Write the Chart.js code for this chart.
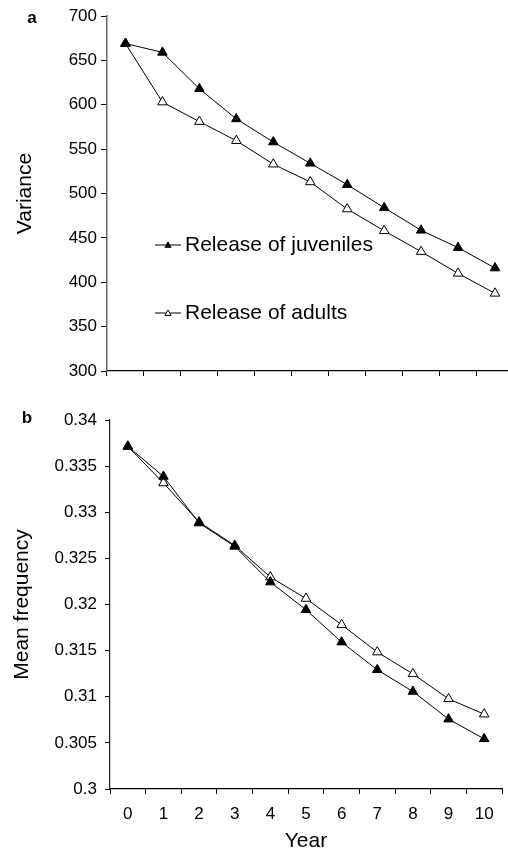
<!DOCTYPE html>
<html>
<head>
<meta charset="utf-8">
<script src="https://cdn.jsdelivr.net/npm/chart.js@4/dist/chart.umd.min.js"></script>
<style>
  html, body { margin: 0; padding: 0; background: #fff; overflow: hidden; }
  #wrap { position: relative; width: 508px; height: 853px; overflow: hidden; }
  canvas { position: absolute; left: 0; }
  #chartA { top: 0; }
  #chartB { top: 395px; }
</style>
</head>
<body>
<div id="wrap">
  <canvas id="chartA" width="520" height="395"></canvas>
  <canvas id="chartB" width="520" height="458"></canvas>
</div>
<script>
// years on the x axis
const years = ['0', '1', '2', '3', '4', '5', '6', '7', '8', '9', '10'];

// panel a: variance
const varianceJuveniles = [669, 659, 618, 584, 558, 534, 510, 484, 458.5, 439, 416];
const varianceAdults = [669, 603, 581, 559.5, 533, 513, 482.5, 458, 434.5, 410, 387.5];

// panel b: mean frequency
const freqJuveniles = [0.33714, 0.33388, 0.32883, 0.3263, 0.32243, 0.31943, 0.31592, 0.31292, 0.31057, 0.30757, 0.30544];
const freqAdults = [0.33714, 0.33317, 0.32894, 0.3264, 0.32297, 0.32065, 0.3178, 0.31484, 0.31248, 0.30977, 0.30811];

const seriesNames = ['Release of juveniles', 'Release of adults'];

const FONT = "'Liberation Sans', Arial, Helvetica, sans-serif";

function makeDataset(label, data, filled) {
  return {
    label: label,
    data: data,
    borderColor: '#000',
    borderWidth: 1,
    backgroundColor: filled ? '#000' : '#fff',
    pointStyle: 'triangle',
    pointRadius: 5.5,
    pointBorderColor: '#000',
    pointBackgroundColor: filled ? '#000' : '#fff',
    pointBorderWidth: 1,
    tension: 0,
    fill: false
  };
}

// panel letter + in-plot legend
const panelDecor = {
  id: 'panelDecor',
  afterDraw(chart, args, opts) {
    const ctx = chart.ctx;
    ctx.save();
    ctx.fillStyle = '#000';
    ctx.font = 'bold 17px ' + FONT;
    ctx.textAlign = 'center';
    ctx.textBaseline = 'middle';
    ctx.fillText(opts.letter, opts.letterX, opts.letterY);

    if (opts.legend) {
      const rows = opts.legend;
      chart.data.datasets.forEach((ds, i) => {
        const r = rows[i];
        ctx.strokeStyle = ds.borderColor;
        ctx.lineWidth = 1;
        ctx.beginPath();
        ctx.moveTo(r.x1, r.y);
        ctx.lineTo(r.x2, r.y);
        ctx.stroke();
        ctx.fillStyle = ds.pointBackgroundColor;
        ctx.strokeStyle = ds.pointBorderColor;
        Chart.helpers.drawPoint(ctx, { pointStyle: 'triangle', radius: 3.6, rotation: 0, borderWidth: 1 }, (r.x1 + r.x2) / 2, r.y + 0.5);
        ctx.fillStyle = '#000';
        ctx.font = '21px ' + FONT;
        ctx.textAlign = 'left';
        ctx.textBaseline = 'middle';
        ctx.fillText(ds.label, r.x2 + 4, r.y);
      });
    }
    ctx.restore();
  }
};

function xAxis(showLabels, height) {
  return {
    type: 'category',
    offset: true,
    border: { color: '#000', width: 1.2 },
    grid: { offset: true, drawOnChartArea: false, drawTicks: true, tickLength: 5, color: '#000', lineWidth: 1 },
    ticks: {
      display: showLabels,
      color: '#000',
      font: { family: FONT, size: 17 },
      padding: 10,
      maxRotation: 0,
      autoSkip: false
    },
    title: showLabels ? {
      display: true,
      text: 'Year',
      color: '#000',
      font: { family: FONT, size: 21, lineHeight: 1 },
      padding: { top: 0, bottom: 1 }
    } : { display: false },
    afterFit(scale) { scale.height = height; }
  };
}

const chartA = new Chart(document.getElementById('chartA').getContext('2d'), {
  type: 'line',
  data: {
    labels: years,
    datasets: [
      makeDataset(seriesNames[0], varianceJuveniles, true),
      makeDataset(seriesNames[1], varianceAdults, false)
    ]
  },
  options: {
    responsive: false,
    animation: false,
    layout: { padding: { top: 16, right: 6, bottom: 0, left: 0 } },
    plugins: {
      legend: { display: false },
      tooltip: { enabled: false },
      panelDecor: {
        letter: 'a', letterX: 32, letterY: 18,
        legend: [
          { x1: 155, x2: 181, y: 245 },
          { x1: 155, x2: 181, y: 313 }
        ]
      }
    },
    scales: {
      x: xAxis(false, 24),
      y: {
        min: 300,
        max: 700,
        border: { color: '#666', width: 1.5 },
        grid: { drawOnChartArea: false, drawTicks: true, tickLength: 6, color: '#000' },
        ticks: { stepSize: 50, color: '#000', font: { family: FONT, size: 17 }, padding: 4 },
        title: {
          display: true,
          text: 'Variance',
          color: '#000',
          font: { family: FONT, size: 21 },
          padding: { top: 13, bottom: 0 }
        },
        afterFit(scale) { scale.width = 107; }
      }
    }
  },
  plugins: [panelDecor]
});

const chartB = new Chart(document.getElementById('chartB').getContext('2d'), {
  type: 'line',
  data: {
    labels: years,
    datasets: [
      makeDataset(seriesNames[0], freqJuveniles, true),
      makeDataset(seriesNames[1], freqAdults, false)
    ]
  },
  options: {
    responsive: false,
    animation: false,
    layout: { padding: { top: 25, right: 18, bottom: 0, left: 0 } },
    plugins: {
      legend: { display: false },
      tooltip: { enabled: false },
      panelDecor: { letter: 'b', letterX: 27, letterY: 23 }
    },
    scales: {
      x: xAxis(true, 64),
      y: {
        min: 0.3,
        max: 0.34,
        border: { color: '#222', width: 1.2 },
        grid: { drawOnChartArea: false, drawTicks: true, tickLength: 5, color: '#000' },
        ticks: {
          stepSize: 0.005,
          color: '#000',
          font: { family: FONT, size: 17 },
          padding: 8,
          callback: (v) => String(+(+v).toFixed(3))
        },
        title: {
          display: true,
          text: 'Mean frequency',
          color: '#000',
          font: { family: FONT, size: 21 },
          padding: { top: 10, bottom: 0 }
        },
        afterFit(scale) { scale.width = 110; }
      }
    }
  },
  plugins: [panelDecor]
});
</script>
</body>
</html>
